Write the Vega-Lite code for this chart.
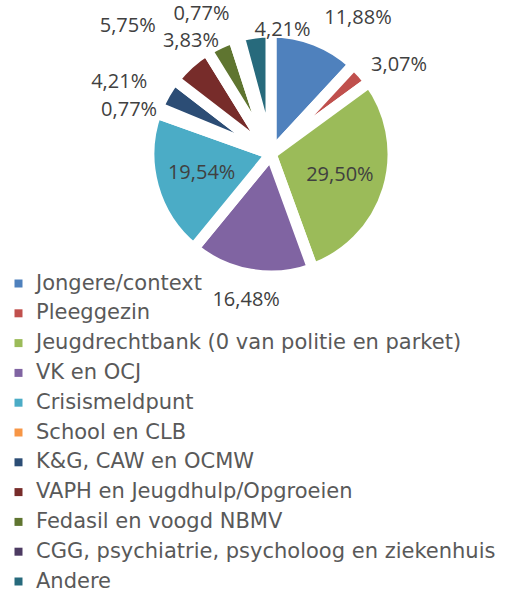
{
  "$schema": "https://vega.github.io/schema/vega-lite/v6.json",
  "width": 220,
  "height": 220,
  "autosize": {"type": "none"},
  "padding": {"left": 161, "top": 44, "right": 132, "bottom": 328},
  "background": "white",
  "config": {
    "view": {"stroke": null},
    "text": {"font": "Open Sans", "fontSize": 20, "color": "#404040", "baseline": "middle"}
  },
  "data": {
    "values": [
      {"cat": "Jongere/context", "value": 11.88, "label": "11,88%"},
      {"cat": "Pleeggezin", "value": 3.07, "label": "3,07%"},
      {"cat": "Jeugdrechtbank (0 van politie en parket)", "value": 29.50, "label": "29,50%"},
      {"cat": "VK en OCJ", "value": 16.48, "label": "16,48%"},
      {"cat": "Crisismeldpunt", "value": 19.54, "label": "19,54%"},
      {"cat": "School en CLB", "value": 0.77, "label": "0,77%"},
      {"cat": "K&G, CAW en OCMW", "value": 4.21, "label": "4,21%"},
      {"cat": "VAPH en Jeugdhulp/Opgroeien", "value": 5.75, "label": "5,75%"},
      {"cat": "Fedasil en voogd NBMV", "value": 3.83, "label": "3,83%"},
      {"cat": "CGG, psychiatrie, psycholoog en ziekenhuis", "value": 0.77, "label": "0,77%"},
      {"cat": "Andere", "value": 4.21, "label": "4,21%"}
    ]
  },
  "transform": [{"window": [{"op": "row_number", "as": "idx"}]}],
  "encoding": {
    "theta": {"field": "value", "type": "quantitative", "stack": true},
    "order": {"field": "idx", "type": "quantitative"}
  },
  "layer": [
    {
      "mark": {"type": "arc", "outerRadius": 122, "stroke": "white", "strokeWidth": 11},
      "encoding": {
        "color": {
          "field": "cat",
          "type": "nominal",
          "scale": {
            "domain": ["Jongere/context", "Pleeggezin", "Jeugdrechtbank (0 van politie en parket)", "VK en OCJ", "Crisismeldpunt", "School en CLB", "K&G, CAW en OCMW", "VAPH en Jeugdhulp/Opgroeien", "Fedasil en voogd NBMV", "CGG, psychiatrie, psycholoog en ziekenhuis", "Andere"],
            "range": ["#4F81BD", "#C0504D", "#9BBB59", "#8064A2", "#4BACC6", "#F79646", "#2C4D75", "#772C2A", "#5F7530", "#4D3B62", "#276A7C"]
          },
          "legend": {
            "title": null,
            "orient": "none",
            "legendX": -153,
            "legendY": 229,
            "symbolType": "square",
            "symbolSize": 64,
            "symbolStrokeWidth": 0,
            "symbolOpacity": 1,
            "labelFont": "DejaVu Sans",
            "labelFontSize": 21,
            "labelColor": "#595959",
            "rowPadding": 7.8,
            "labelOffset": 7,
            "padding": 0,
            "labelLimit": 0
          }
        }
      }
    },
    {
      "mark": {"type": "text", "radius": 72, "align": "center"},
      "encoding": {
        "detail": {"field": "cat", "type": "nominal"},
        "text": {"field": "label", "type": "nominal", "condition": {"test": "indexof(['Crisismeldpunt', 'Jeugdrechtbank (0 van politie en parket)'], datum.cat) < 0", "value": ""}}
      }
    },
    {
      "mark": {"type": "text", "radius": 122, "align": "right"},
      "encoding": {
        "detail": {"field": "cat", "type": "nominal"},
        "text": {"field": "label", "type": "nominal", "condition": {"test": "datum.cat !== 'School en CLB'", "value": ""}}
      }
    },
    {
      "mark": {"type": "text", "radius": 172, "align": "right"},
      "encoding": {
        "detail": {"field": "cat", "type": "nominal"},
        "text": {"field": "label", "type": "nominal", "condition": {"test": "datum.cat !== 'VAPH en Jeugdhulp/Opgroeien'", "value": ""}}
      }
    },
    {
      "mark": {"type": "text", "radius": 143, "align": "right"},
      "encoding": {
        "detail": {"field": "cat", "type": "nominal"},
        "text": {"field": "label", "type": "nominal", "condition": {"test": "datum.cat !== 'K&G, CAW en OCMW'", "value": ""}}
      }
    },
    {
      "mark": {"type": "text", "radius": 124, "align": "right"},
      "encoding": {
        "detail": {"field": "cat", "type": "nominal"},
        "text": {"field": "label", "type": "nominal", "condition": {"test": "datum.cat !== 'Fedasil en voogd NBMV'", "value": ""}}
      }
    },
    {
      "mark": {"type": "text", "radius": 146, "align": "right"},
      "encoding": {
        "detail": {"field": "cat", "type": "nominal"},
        "text": {"field": "label", "type": "nominal", "condition": {"test": "datum.cat !== 'CGG, psychiatrie, psycholoog en ziekenhuis'", "value": ""}}
      }
    },
    {
      "mark": {"type": "text", "radius": 125, "align": "left"},
      "encoding": {
        "detail": {"field": "cat", "type": "nominal"},
        "text": {"field": "label", "type": "nominal", "condition": {"test": "datum.cat !== 'Andere'", "value": ""}}
      }
    },
    {
      "mark": {"type": "text", "radius": 146, "align": "left"},
      "encoding": {
        "detail": {"field": "cat", "type": "nominal"},
        "text": {"field": "label", "type": "nominal", "condition": {"test": "datum.cat !== 'Jongere/context'", "value": ""}}
      }
    },
    {
      "mark": {"type": "text", "radius": 134, "align": "left"},
      "encoding": {
        "detail": {"field": "cat", "type": "nominal"},
        "text": {"field": "label", "type": "nominal", "condition": {"test": "datum.cat !== 'Pleeggezin'", "value": ""}}
      }
    },
    {
      "mark": {"type": "text", "radius": 148, "align": "center"},
      "encoding": {
        "detail": {"field": "cat", "type": "nominal"},
        "text": {"field": "label", "type": "nominal", "condition": {"test": "datum.cat !== 'VK en OCJ'", "value": ""}}
      }
    }
  ]
}
